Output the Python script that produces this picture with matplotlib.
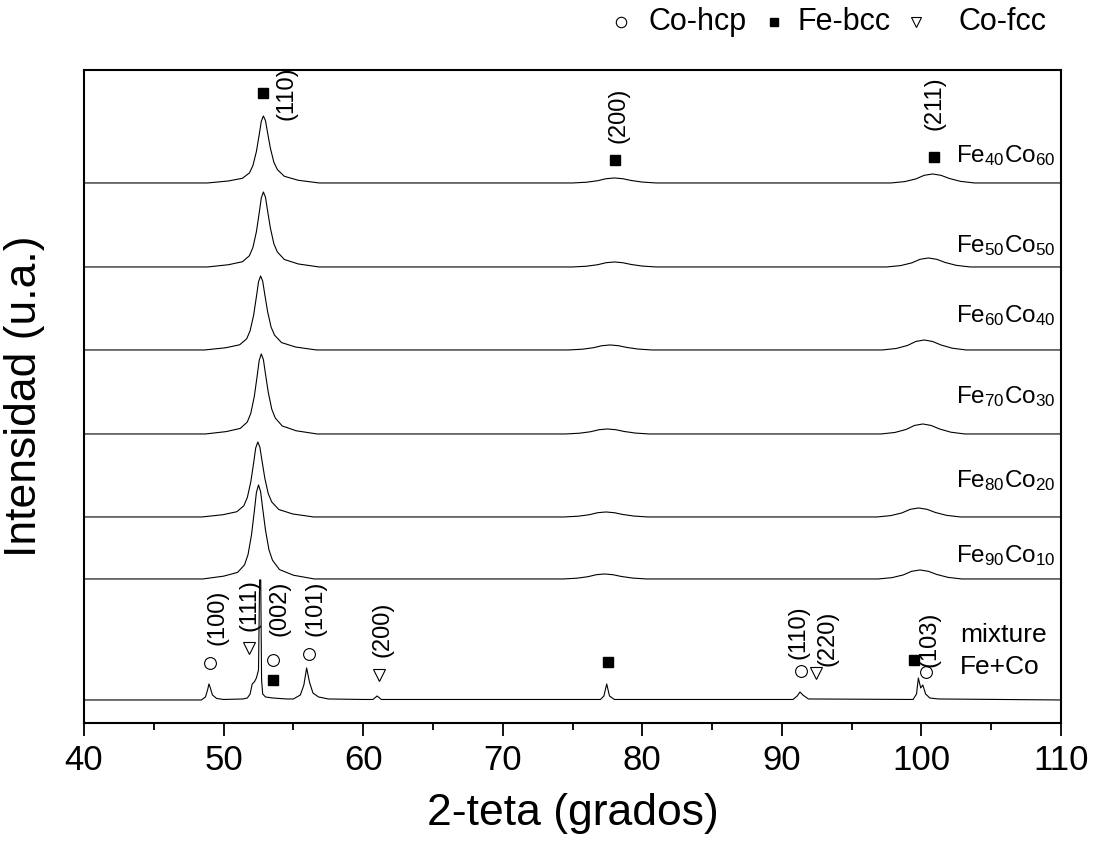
import numpy as np
import matplotlib as mpl
mpl.use("Agg")
import matplotlib.pyplot as plt

plt.rcParams['font.family'] = ['Liberation Sans', 'DejaVu Sans']
plt.rcParams['mathtext.fontset'] = 'custom'
plt.rcParams['mathtext.rm'] = 'Liberation Sans'
plt.rcParams['mathtext.default'] = 'regular'

# sample names and vertical offsets of each pattern (arb. units)
samples = [r'Fe$_{40}$Co$_{60}$', r'Fe$_{50}$Co$_{50}$', r'Fe$_{60}$Co$_{40}$',
           r'Fe$_{70}$Co$_{30}$', r'Fe$_{80}$Co$_{20}$', r'Fe$_{90}$Co$_{10}$']
offsets = [540, 456, 373, 289, 206, 144]
label_y = [561, 471, 401, 320, 236, 161]

# bcc peaks: (110), (200), (211) positions and heights
pos110 = [52.85, 52.85, 52.65, 52.70, 52.45, 52.50]
h110 = [67, 75, 74, 80, 75, 94]
pos200 = [78.0, 78.0, 77.7, 77.5, 77.4, 77.3]
h200 = [5, 5, 5, 5, 5, 5]
pos211 = [100.8, 100.5, 100.2, 100.1, 99.8, 99.9]
h211 = [9, 9, 10, 10, 9, 9]

sharp_dx = [-4, -2.5, -1.5, -1.0, -0.75, -0.5, -0.3, -0.15, 0, 0.15, 0.3, 0.5, 0.75, 1.0, 1.5, 2.5, 4]
sharp_fr = [0, 0.03, 0.07, 0.15, 0.26, 0.47, 0.72, 0.92, 1, 0.93, 0.75, 0.52, 0.31, 0.2, 0.1, 0.04, 0]
broad_dx = [-3, -2, -1.2, -0.6, 0, 0.6, 1.2, 2, 3]
broad_fr = [0, 0.15, 0.45, 0.85, 1, 0.85, 0.5, 0.18, 0]

# mixture Fe+Co pattern
mix_offset = 23
mix_x = [40, 48.4, 48.7, 48.85, 48.95, 49.05, 49.2, 49.5, 50.0,
         51.4, 51.7, 51.9, 52.05, 52.2, 52.35, 52.5, 52.58, 52.66, 52.72, 52.8, 53.0, 53.5, 54.5,
         55.0, 55.5, 55.75, 55.95, 56.15, 56.4, 56.8, 57.5, 60.0,
         60.7, 61.0, 61.3, 77.0, 77.25, 77.45, 77.65, 78.0,
         90.8, 91.1, 91.3, 91.5, 91.9,
         99.4, 99.65, 99.78, 99.95, 100.1, 100.3, 100.6, 101.2, 110]
mix_y = [0, 0, 3, 10, 16, 12, 5, 1.5, 0.5,
         1, 2, 6, 16, 18, 22, 30, 120, 120, 20, 6, 3, 2, 1,
         1, 5, 15, 32, 18, 7, 3, 1, 0.5,
         0.5, 4, 0.5, 0.5, 4, 16, 4, 0.5,
         0.5, 4, 8, 5, 1,
         0.5, 6, 22, 12, 15, 6, 2, 1, 0]

# phase markers: (x, y) in data units
hcp_pts = [(49.03, 60), (53.54, 63), (56.12, 69), (91.37, 52), (100.33, 51)]
bcc_pts = [(52.83, 630), (78.05, 563), (100.9, 566), (53.54, 43), (77.54, 61), (99.47, 63)]
fcc_pts = [(51.82, 75), (61.14, 48), (92.45, 50)]

# Miller indices: (text, x, y)
hkl_labels = [('(110)', 54.54, 630), ('(200)', 78.26, 608), ('(211)', 100.97, 620),
              ('(100)', 49.53, 106), ('(111)', 51.82, 118), ('(002)', 54.04, 115),
              ('(101)', 56.55, 115), ('(200)', 61.35, 94), ('(110)', 91.16, 91),
              ('(220)', 93.24, 85), ('(103)', 100.61, 84)]

fig = plt.figure(figsize=(10.93, 8.44), dpi=100)
ax = fig.add_axes([0.0769, 0.1434, 0.8938, 0.7737])

for i in range(len(samples)):
    xs = np.concatenate([[40], pos110[i] + np.array(sharp_dx),
                         pos200[i] + np.array(broad_dx),
                         pos211[i] + np.array(broad_dx), [110]])
    ys = np.concatenate([[0], h110[i] * np.array(sharp_fr),
                         h200[i] * np.array(broad_fr),
                         h211[i] * np.array(broad_fr), [0]])
    ax.plot(xs, ys + offsets[i], color='black', lw=0.8)
    ax.text(109.64, label_y[i], samples[i], fontsize=17.5, ha='right', va='baseline')

ax.plot(mix_x, np.array(mix_y) + mix_offset, color='black', lw=0.8)
ax.text(102.76, 88, 'mixture', fontsize=19, ha='left', va='center')
ax.text(102.76, 56, 'Fe+Co', fontsize=19, ha='left', va='center')

ax.plot(*zip(*hcp_pts), ls='none', marker='o', ms=8.5, mfc='white', mec='black', mew=0.8)
ax.plot(*zip(*bcc_pts), ls='none', marker='s', ms=6.5, mfc='black', mec='black')
ax.plot(*zip(*fcc_pts), ls='none', marker='v', ms=9, mfc='white', mec='black', mew=0.8)

for txt, x, y in hkl_labels:
    ax.text(x, y, txt, fontsize=17, rotation=90, ha='center', va='center')

# legend row above the frame
ax.plot([78.48], [701], marker='o', ms=7.5, mfc='white', mec='black', mew=0.8, clip_on=False)
ax.text(80.48, 701, 'Co-hcp', fontsize=22, ha='left', va='center')
ax.plot([89.44], [701], marker='s', ms=5.5, mfc='black', mec='black', clip_on=False)
ax.text(91.09, 701, 'Fe-bcc', fontsize=22, ha='left', va='center')
ax.plot([99.61], [701], marker='v', ms=7, mfc='white', mec='black', mew=0.8, clip_on=False)
ax.text(102.69, 701, 'Co-fcc', fontsize=22, ha='left', va='center')

ax.set_xlim(40, 110)
ax.set_ylim(0, 653)
ax.set_xticks(np.arange(40, 111, 10))
ax.set_xticks(np.arange(45, 110, 10), minor=True)
ax.set_yticks([])
ax.tick_params(axis='x', which='major', direction='out', length=9, width=1.3,
               labelsize=25, pad=6)
ax.tick_params(axis='x', which='minor', direction='out', length=5, width=1.3)
for sp in ax.spines.values():
    sp.set_linewidth(1.5)

ax.set_xlabel('2-teta (grados)', fontsize=32, labelpad=12)
ax.set_ylabel('Intensidad (u.a.)', fontsize=32)
ax.yaxis.set_label_coords(-0.04, 0.5)

plt.savefig("out.png", dpi=100)
plt.close(fig)
